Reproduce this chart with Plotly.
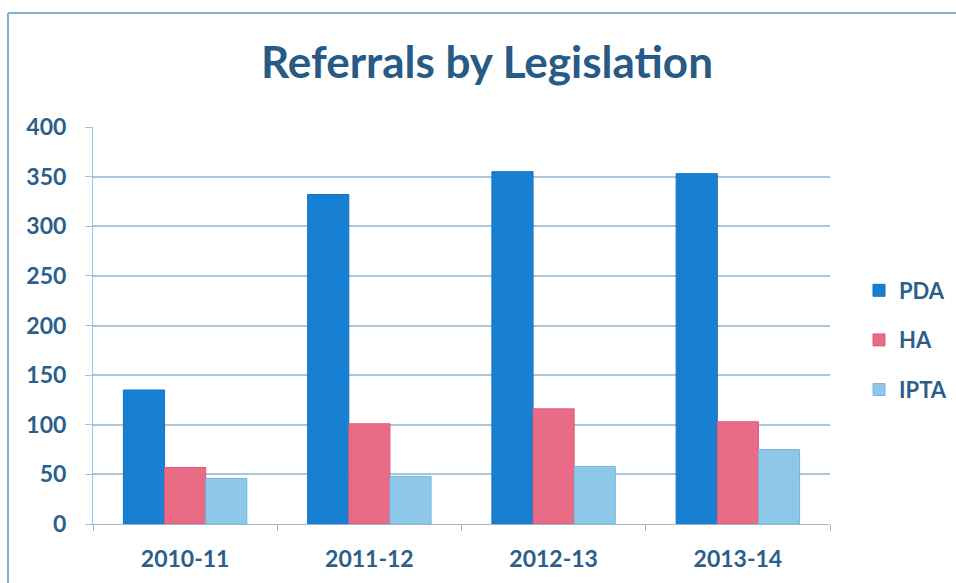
import plotly.graph_objects as go

# Referral counts per financial year, by legislation
years = ["2010-11", "2011-12", "2012-13", "2013-14"]
pda = [135, 332, 355, 353]
ha = [57, 101, 116, 103]
ipta = [46, 48, 58, 75]

series_names = ["PDA", "HA", "IPTA"]
series_colors = ["#1880d2", "#ea6b86", "#8ec8e8"]
series_edges = ["#1570bd", "#d95c78", "#78b6da"]
y_ticks = [0, 50, 100, 150, 200, 250, 300, 350, 400]

W, H = 956, 583
ML, MR, MT, MB = 93, 126, 127, 59
text_color = "#2a5f8c"
grid_color = "#a9c6db"
font_family = "Lato, 'Open Sans', sans-serif"

fig = go.Figure()
for i, (name, vals) in enumerate(zip(series_names, [pda, ha, ipta])):
    fig.add_trace(go.Bar(
        x=years, y=vals, name=name,
        marker=dict(color=series_colors[i],
                    line=dict(color=series_edges[i], width=1)),
        legendgroup=name,
    ))

# outer frame of the chart area (left and top edges)
pw, ph = W - ML - MR, H - MT - MB
fx0 = (8 - ML) / pw
fy1 = (H - MB - 13) / ph
fig.add_shape(type="line", xref="paper", yref="paper",
              x0=fx0, x1=fx0, y0=-MB / ph - 0.01, y1=fy1,
              line=dict(color="#7eaed0", width=2))
fig.add_shape(type="line", xref="paper", yref="paper",
              x0=fx0, x1=(W - ML) / pw + 0.01, y0=fy1, y1=fy1,
              line=dict(color="#7eaed0", width=2))

fig.update_layout(
    width=W, height=H,
    margin=dict(l=ML, r=MR, t=MT, b=MB, autoexpand=False),
    paper_bgcolor="white", plot_bgcolor="white",
    title=dict(text="Referrals by Legislation", x=(487 - ML) / pw, xref="paper",
               xanchor="center", y=1 - 63 / H, yanchor="middle",
               font=dict(family=font_family, size=44, color="#275a85", weight="bold")),
    barmode="group", bargap=0.33, bargroupgap=0,
    font=dict(family=font_family, color=text_color),
    legend=dict(x=(859 - ML) / pw, y=(H - MB - 340) / ph, xanchor="left", yanchor="middle",
                font=dict(size=22, color=text_color, weight="bold"),
                tracegroupgap=18, itemwidth=30, bgcolor="rgba(0,0,0,0)"),
    showlegend=True,
)
fig.update_xaxes(
    type="category", showgrid=False,
    showline=True, linecolor="#9fb8cc", linewidth=1,
    ticks="outside", tickson="boundaries", ticklen=6, tickcolor="#9fb8cc",
    tickfont=dict(size=23, color=text_color, weight="bold"),
    ticklabelstandoff=14,
)
fig.update_yaxes(
    range=[0, 400], tickvals=y_ticks,
    showgrid=True, gridcolor=grid_color, gridwidth=1.5,
    showline=True, linecolor="#9cc4e0", linewidth=1,
    ticks="outside", ticklen=7, tickcolor="#9cc4e0",
    tickfont=dict(size=23, color=text_color, weight="bold"),
    ticklabelstandoff=14,
    zeroline=False,
)

fig.write_html("out.html")
